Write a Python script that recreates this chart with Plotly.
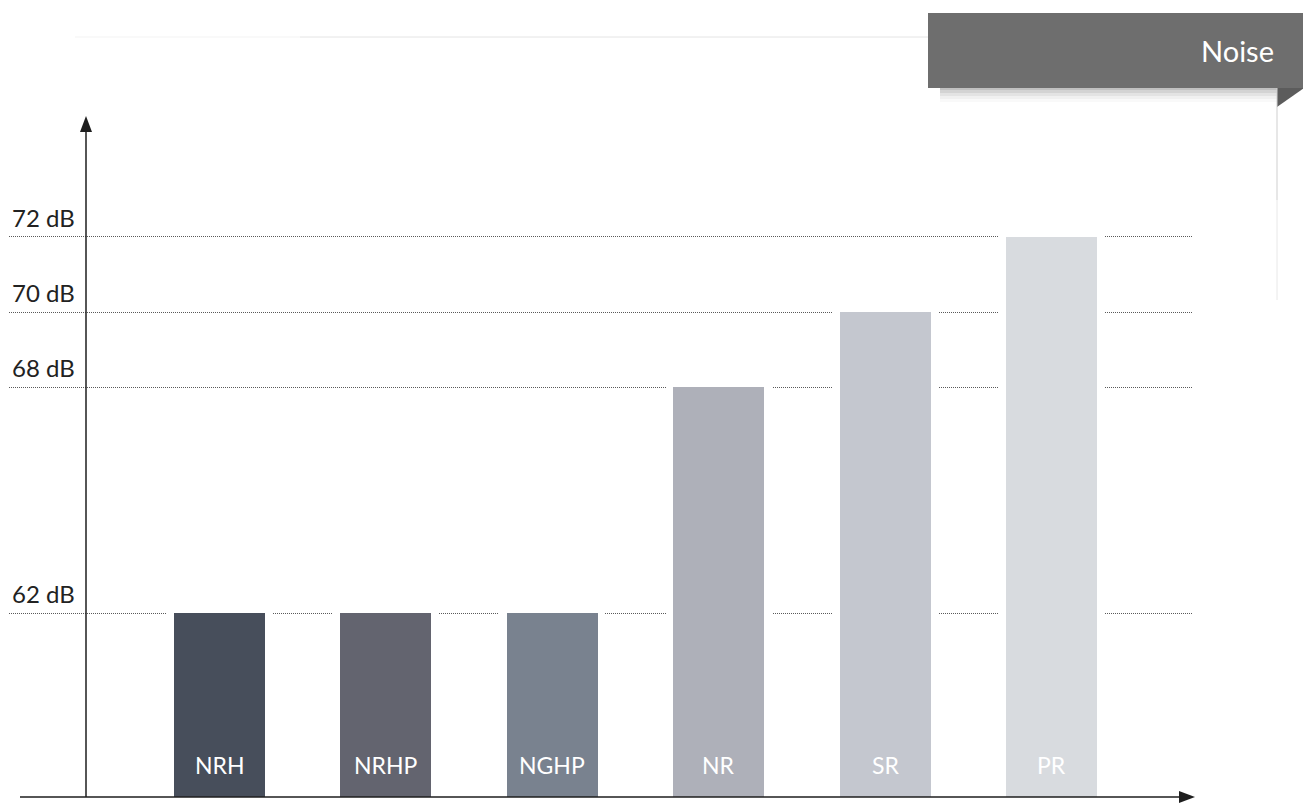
import plotly.graph_objects as go

# ---------------- data ----------------
categories = ["NRH", "NRHP", "NGHP", "NR", "SR", "PR"]
values_db = [62, 62, 62, 68, 70, 72]
bar_colors = ["#474e5b", "#63646f", "#79828f", "#aeb0b9", "#c4c7cf", "#d8dbdf"]
tick_values = [62, 68, 70, 72]
tick_labels = ["62 dB", "68 dB", "70 dB", "72 dB"]
title_text = "Noise"

# ---------------- layout constants ----------------
OFF = 0  # body margin removed via post_script
W, H = 1303, 809
ML, MR, MT, MB = 9, 111, 116, 12
Y_MIN, Y_MAX = 57.11, 75.21
X_RANGE = [-1.265, 5.844]
FONT = "Lato, 'Gill Sans', 'Open Sans', sans-serif"

PW = W - ML - MR
PH = H - MT - MB


def px2x(px):
    return (px - OFF - ML) / PW


def py2y(py):
    return (H - MB - (py - OFF)) / PH


fig = go.Figure()

# white "halo" bars that interrupt the dotted gridlines around each bar
fig.add_trace(go.Bar(
    x=categories,
    y=[v - Y_MIN + 0.05 for v in values_db],
    base=Y_MIN,
    width=0.637,
    marker=dict(color="white", line=dict(width=0)),
    hoverinfo="skip",
    showlegend=False,
))

# the real bars
fig.add_trace(go.Bar(
    x=categories,
    y=[v - Y_MIN for v in values_db],
    base=Y_MIN,
    width=0.547,
    marker=dict(color=bar_colors, line=dict(width=0)),
    customdata=values_db,
    hovertemplate="%{x}: %{customdata} dB<extra></extra>",
    showlegend=False,
))

annotations = []
# y labels above gridlines
for v, lab in zip(tick_values, tick_labels):
    annotations.append(dict(
        x=px2x(10), xref="paper", xanchor="left",
        y=v, yref="y", yanchor="bottom", yshift=3,
        text=lab, showarrow=False,
        font=dict(family=FONT, size=24, color="#222222"),
    ))
# bar labels
for c in categories:
    annotations.append(dict(
        x=c, xref="x", xanchor="center",
        y=Y_MIN, yref="y", yanchor="bottom", yshift=16,
        text=c, showarrow=False,
        font=dict(family=FONT, size=23, color="white"),
    ))
# title in header box
annotations.append(dict(
    x=px2x(1276), xref="paper", xanchor="right",
    y=py2y(51), yref="paper", yanchor="middle",
    text=title_text, showarrow=False,
    font=dict(family=FONT, size=29, color="white"),
))

shapes = []
# top thin line (fading to the left)
shapes.append(dict(type="line", xref="paper", yref="paper",
                   x0=px2x(75), x1=px2x(300), y0=py2y(37), y1=py2y(37),
                   line=dict(color="#f3f3f3", width=1), layer="below"))
shapes.append(dict(type="line", xref="paper", yref="paper",
                   x0=px2x(300), x1=px2x(928), y0=py2y(37), y1=py2y(37),
                   line=dict(color="#e4e4e4", width=1), layer="below"))
# header box shadow (soft)
for off, op in [(14, 0.025), (11, 0.035), (8, 0.05), (5, 0.07), (2, 0.09)]:
    shapes.append(dict(type="rect", xref="paper", yref="paper",
                       x0=px2x(940), x1=px2x(1277),
                       y0=py2y(88 + off), y1=py2y(80),
                       fillcolor="rgba(0,0,0,%s)" % op, line=dict(width=0),
                       layer="above"))
# header box
shapes.append(dict(type="rect", xref="paper", yref="paper",
                   x0=px2x(928), x1=px2x(1304), y0=py2y(88), y1=py2y(13),
                   fillcolor="#6e6e6e", line=dict(width=0), layer="above"))
# fold triangle
shapes.append(dict(type="path", xref="paper", yref="paper",
                   path="M %f,%f L %f,%f L %f,%f Z" % (
                       px2x(1277), py2y(88), px2x(1304), py2y(88),
                       px2x(1277), py2y(107)),
                   fillcolor="#5c5c5c", line=dict(width=0), layer="above"))
# page edge vertical line (fading)
shapes.append(dict(type="line", xref="paper", yref="paper",
                   x0=px2x(1277), x1=px2x(1277), y0=py2y(88), y1=py2y(200),
                   line=dict(color="#cfcfcf", width=1), layer="above"))
shapes.append(dict(type="line", xref="paper", yref="paper",
                   x0=px2x(1277), x1=px2x(1277), y0=py2y(200), y1=py2y(300),
                   line=dict(color="#e8e8e8", width=1), layer="above"))
# y axis line
shapes.append(dict(type="line", xref="paper", yref="paper",
                   x0=px2x(86), x1=px2x(86), y0=0, y1=py2y(130),
                   line=dict(color="#1e1e1e", width=1.5), layer="above"))
# y axis arrow head
shapes.append(dict(type="path", xref="paper", yref="paper",
                   path="M %f,%f L %f,%f L %f,%f Z" % (
                       px2x(80), py2y(132), px2x(92), py2y(132),
                       px2x(86), py2y(116)),
                   fillcolor="#1e1e1e", line=dict(width=0), layer="above"))
# x axis line
shapes.append(dict(type="line", xref="paper", yref="paper",
                   x0=px2x(20), x1=px2x(1181), y0=0, y1=0,
                   line=dict(color="#1e1e1e", width=1.5), layer="above"))
# x axis arrow head
shapes.append(dict(type="path", xref="paper", yref="paper",
                   path="M %f,%f L %f,%f L %f,%f Z" % (
                       px2x(1179), py2y(791), px2x(1179), py2y(803),
                       px2x(1195), py2y(797)),
                   fillcolor="#1e1e1e", line=dict(width=0), layer="above"))

fig.update_layout(
    width=W, height=H, autosize=False,
    margin=dict(l=ML, r=MR, t=MT, b=MB, pad=0),
    paper_bgcolor="white", plot_bgcolor="white",
    barmode="overlay", bargap=0,
    showlegend=False,
    font=dict(family=FONT),
    xaxis=dict(range=X_RANGE, showticklabels=False, showgrid=False,
               zeroline=False, showline=False, ticks="", fixedrange=True),
    yaxis=dict(range=[Y_MIN, Y_MAX], tickvals=tick_values,
               showticklabels=False, showgrid=True,
               gridcolor="#5a5a5a", gridwidth=1, griddash="1px,1px",
               zeroline=False, showline=False, ticks="", fixedrange=True),
    annotations=annotations,
    shapes=shapes,
)

fig.write_html(
    "out.html",
    config={"displayModeBar": False},
    post_script="document.body.style.margin='0';document.body.style.overflow='hidden';",
)
